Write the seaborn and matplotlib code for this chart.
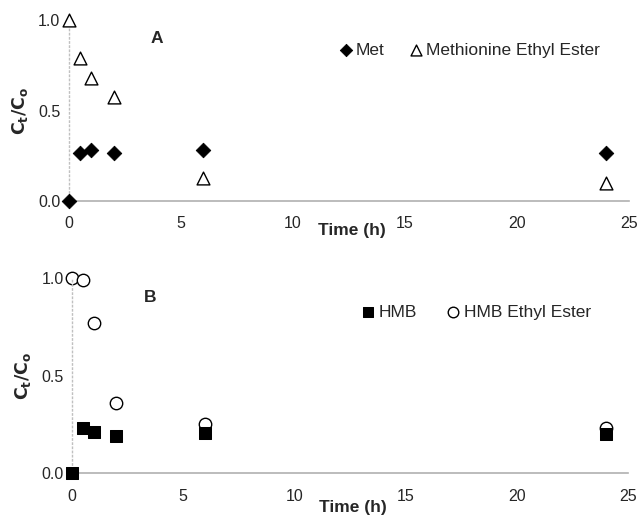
import matplotlib
matplotlib.use("Agg")
import matplotlib.pyplot as plt
import seaborn as sns

# Data
time_h = [0, 0.5, 1, 2, 6, 24]
met = [0.0, 0.267, 0.28, 0.267, 0.28, 0.267]
met_ester = [1.0, 0.79, 0.68, 0.576, 0.125, 0.10]
hmb = [0.0, 0.23, 0.213, 0.19, 0.205, 0.20]
hmb_ester = [1.0, 0.99, 0.77, 0.36, 0.253, 0.23]

x_ticks = [0, 5, 10, 15, 20, 25]
y_ticks = [0.0, 0.5, 1.0]

sns.set_style("white")
plt.rcParams['font.family'] = ['Liberation Sans', 'DejaVu Sans']

fig = plt.figure(figsize=(6.37, 5.15), dpi=100)
ax_a = fig.add_axes([0.108, 0.6097, 0.879, 0.351])
ax_b = fig.add_axes([0.113, 0.081, 0.873, 0.3786])


def style_axes(ax, label_offset):
    ax.set_xlim(0, 25)
    ax.set_ylim(0, 1.0)
    ax.set_xticks(x_ticks)
    ax.set_yticks(y_ticks)
    ax.set_yticklabels(["{:.1f}".format(v) for v in y_ticks])
    for side in ("top", "right"):
        ax.spines[side].set_visible(False)
    ax.spines["bottom"].set_color("#b0b0b0")
    ax.spines["bottom"].set_linewidth(1.2)
    ax.spines["left"].set_color("#c0c0c0")
    ax.spines["left"].set_linestyle((0, (1, 2)))
    ax.spines["left"].set_linewidth(1.0)
    ax.tick_params(axis="x", length=0, pad=11, labelsize=11.5)
    ax.tick_params(axis="y", length=0, pad=6, labelsize=11.5)
    ax.set_xlabel("")
    ax.set_ylabel(r"$\mathbf{C_t/C_o}$", fontsize=12.5, fontweight="bold", labelpad=6)
    ax.annotate("Time (h)", xy=(12.65, 0), xycoords=("data", "axes fraction"),
                xytext=(0, label_offset), textcoords="offset points",
                ha="center", va="center", fontsize=12.5, fontweight="bold")
    for coll in ax.collections:
        coll.set_clip_on(False)


# Panel A
sns.scatterplot(x=time_h, y=met, marker="D", color="black", edgecolor="black",
                s=55, ax=ax_a, label="Met", zorder=3)
sns.scatterplot(x=time_h, y=met_ester, marker="^", facecolor="white", edgecolor="black",
                linewidth=1.0, s=85, ax=ax_a, label="Methionine Ethyl Ester", zorder=3)
style_axes(ax_a, -21)
ax_a.text(3.95, 0.9, "A", fontsize=12.5, fontweight="bold", ha="center", va="center")
ax_a.legend(loc="center left", bbox_to_anchor=(0.482, 0.834), ncol=2, frameon=False,
            fontsize=12.5, markerscale=0.85, handlelength=0.8, handletextpad=0.2,
            columnspacing=1.4, borderaxespad=0, borderpad=0)

# Panel B
sns.scatterplot(x=time_h, y=hmb, marker="s", color="black", edgecolor="black",
                s=85, ax=ax_b, label="HMB", zorder=3)
sns.scatterplot(x=time_h, y=hmb_ester, marker="o", facecolor="white", edgecolor="black",
                linewidth=1.0, s=80, ax=ax_b, label="HMB Ethyl Ester", zorder=2)
style_axes(ax_b, -24.5)
ax_b.text(3.5, 0.9, "B", fontsize=12.5, fontweight="bold", ha="center", va="center")
ax_b.legend(loc="center left", bbox_to_anchor=(0.52, 0.826), ncol=2, frameon=False,
            fontsize=12.5, markerscale=0.85, handlelength=0.8, handletextpad=0.2,
            columnspacing=1.7, borderaxespad=0, borderpad=0)

fig.savefig("out.png", dpi=100)
